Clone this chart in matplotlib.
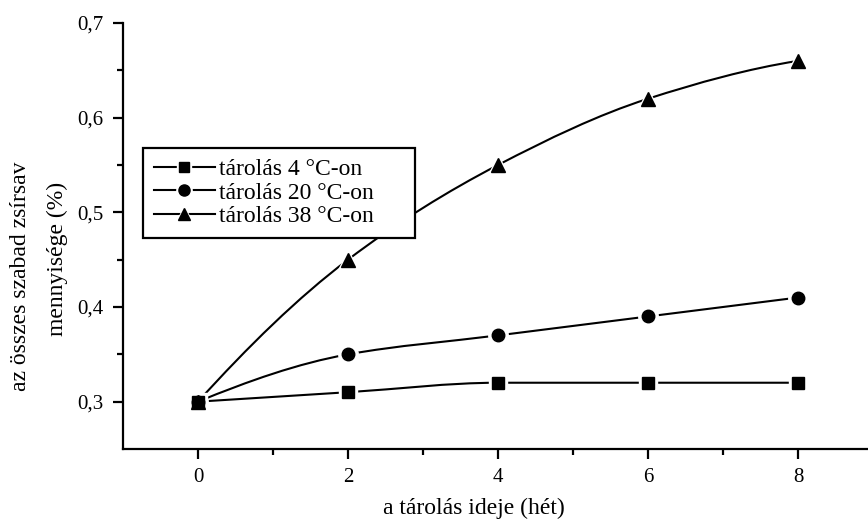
import numpy as np
import matplotlib
matplotlib.use("Agg")
import matplotlib.pyplot as plt
from matplotlib.path import Path
from matplotlib.patches import PathPatch
from matplotlib.lines import Line2D
from matplotlib.legend_handler import HandlerTuple
from matplotlib.ticker import FixedLocator, FuncFormatter

# tárolási idő (hét) és az összes szabad zsírsav (%)
weeks = [0, 2, 4, 6, 8]
ffa_4c = [0.30, 0.31, 0.32, 0.32, 0.32]
ffa_20c = [0.30, 0.35, 0.37, 0.39, 0.41]
ffa_38c = [0.30, 0.45, 0.55, 0.62, 0.66]

series_labels = ["tárolás 4 °C-on", "tárolás 20 °C-on", "tárolás 38 °C-on"]
series_markers = ["s", "o", "^"]
series_sizes = [8, 9, 9.5]

x_label = "a tárolás ideje (hét)"
y_label_1 = "az összes szabad zsírsav"
y_label_2 = "mennyisége (%)"

plt.rcParams["font.family"] = ["Liberation Serif", "DejaVu Serif"]


def hermite_slopes(x, y):
    # monoton (PCHIP-szerű) érintők a sima összekötő görbéhez
    x = np.asarray(x, float)
    y = np.asarray(y, float)
    h = np.diff(x)
    d = np.diff(y) / h
    m = np.zeros_like(y)
    for k in range(1, len(y) - 1):
        if d[k - 1] * d[k] > 0:
            w1 = 2 * h[k] + h[k - 1]
            w2 = h[k] + 2 * h[k - 1]
            m[k] = (w1 + w2) / (w1 / d[k - 1] + w2 / d[k])
    m0 = ((2 * h[0] + h[1]) * d[0] - h[0] * d[1]) / (h[0] + h[1])
    if np.sign(m0) != np.sign(d[0]):
        m0 = 0.0
    m[0] = m0
    mn = ((2 * h[-1] + h[-2]) * d[-1] - h[-1] * d[-2]) / (h[-1] + h[-2])
    if np.sign(mn) != np.sign(d[-1]):
        mn = 0.0
    m[-1] = mn
    return x, y, m


def smooth_path(x, y):
    # Bezier szakaszok a Hermite-érintőkből
    x, y, m = hermite_slopes(x, y)
    verts = [(x[0], y[0])]
    codes = [Path.MOVETO]
    for k in range(len(x) - 1):
        h = x[k + 1] - x[k]
        verts += [
            (x[k] + h / 3, y[k] + m[k] * h / 3),
            (x[k + 1] - h / 3, y[k + 1] - m[k + 1] * h / 3),
            (x[k + 1], y[k + 1]),
        ]
        codes += [Path.CURVE4] * 3
    return Path(verts, codes)


W, H = 868, 520
fig = plt.figure(figsize=(W / 100, H / 100), dpi=100)
ax = fig.add_axes([123 / W, 71 / H, 750 / W, 426 / H])

lw = 1.5
handles = []
for vals, mk, ms in zip([ffa_4c, ffa_20c, ffa_38c], series_markers, series_sizes):
    patch = PathPatch(smooth_path(weeks, vals), facecolor="none",
                      edgecolor="black", lw=lw, zorder=2)
    ax.add_patch(patch)
    ax.plot(weeks, vals, linestyle="none", marker=mk, ms=ms + 5,
            mfc="white", mec="white", zorder=3)
    ax.plot(weeks, vals, linestyle="none", marker=mk, ms=ms,
            mfc="black", mec="black", zorder=4)
    h_line = Line2D([], [], color="black", lw=lw)
    h_gap = Line2D([], [], linestyle="none", marker=mk, ms=ms + 2,
                   mfc="white", mec="white")
    h_mark = Line2D([], [], linestyle="none", marker=mk, ms=ms - 1,
                    mfc="black", mec="black")
    handles.append((h_line, h_gap, h_mark))

ax.set_xlim(-1, 9)
ax.set_ylim(0.25, 0.7)

ax.spines["top"].set_visible(False)
ax.spines["right"].set_visible(False)
for s in ["left", "bottom"]:
    ax.spines[s].set_linewidth(1.6)

ax.xaxis.set_major_locator(FixedLocator([0, 2, 4, 6, 8]))
ax.xaxis.set_minor_locator(FixedLocator([1, 3, 5, 7]))
ax.yaxis.set_major_locator(FixedLocator([0.3, 0.4, 0.5, 0.6, 0.7]))
ax.yaxis.set_minor_locator(FixedLocator([0.35, 0.45, 0.55, 0.65]))
ax.yaxis.set_major_formatter(FuncFormatter(lambda v, p: f"{v:.1f}".replace(".", ",")))

ax.tick_params(which="major", direction="out", length=7, width=1.6,
               labelsize=15, pad=7)
ax.tick_params(which="minor", direction="out", length=4, width=1.6)

fig.text(474 / W, 1 - 508 / H, x_label, ha="center", va="center", fontsize=17)
fig.text(21 / W, 1 - 276 / H, y_label_1, ha="center", va="center",
         rotation=90, fontsize=17)
fig.text(57 / W, 1 - 259 / H, y_label_2, ha="center", va="center",
         rotation=90, fontsize=17)

leg = ax.legend(handles, series_labels,
                handler_map={tuple: HandlerTuple(ndivide=1, pad=0)},
                loc="upper left",
                bbox_to_anchor=(143 / W, 1 - 239 / H, 272 / W, 91 / H),
                bbox_transform=fig.transFigure, borderaxespad=0, mode="expand",
                fontsize=17, handlelength=2.6, handletextpad=0.15,
                labelspacing=0.08, borderpad=0.45, fancybox=False,
                framealpha=1, edgecolor="black")
leg.get_frame().set_linewidth(1.6)
leg.set_zorder(5)

fig.savefig("out.png", dpi=100)
